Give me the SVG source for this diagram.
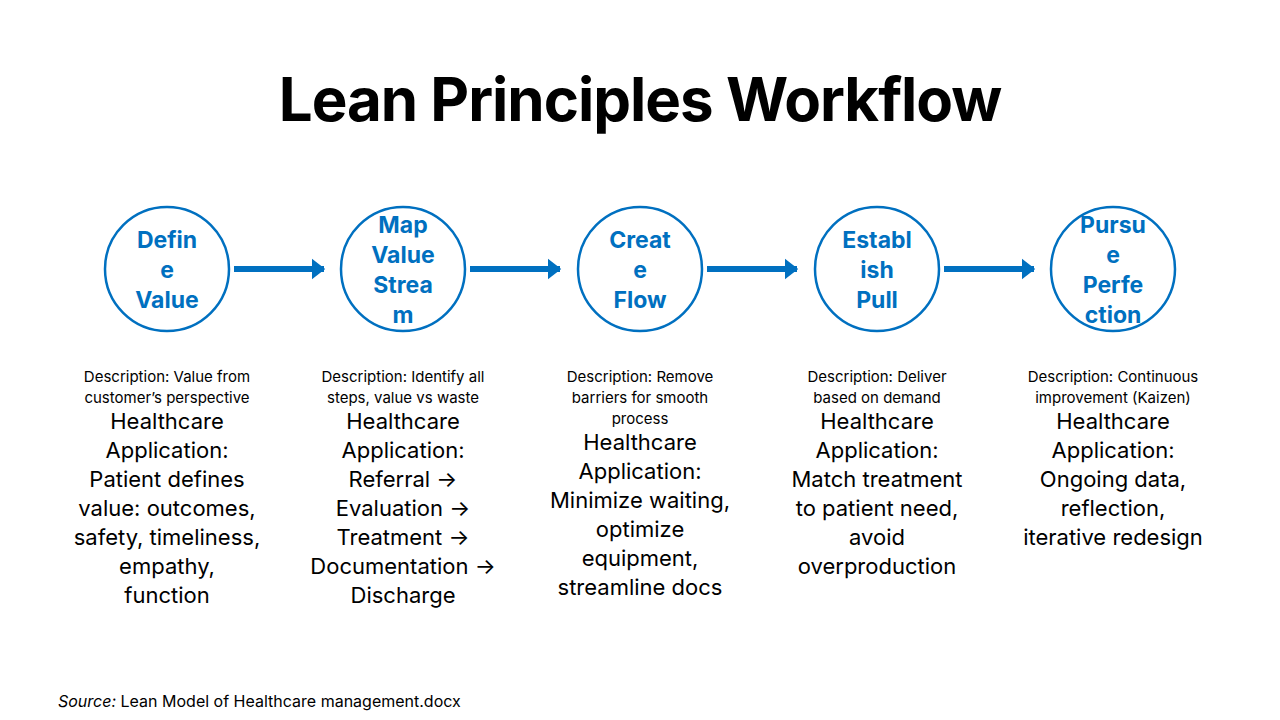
<svg xmlns="http://www.w3.org/2000/svg" width="1280" height="720" viewBox="0 0 1280 720">
<style>
.n{fill:#fff;stroke:#0070C0;stroke-width:2.5}
.nl{font-family:"Inter","Liberation Sans",sans-serif;font-weight:bold;font-size:23px;fill:#0070C0;text-anchor:middle}
.d{font-family:"Inter","Liberation Sans",sans-serif;font-size:15px;fill:#000;text-anchor:middle}
.h{font-family:"Inter","Liberation Sans",sans-serif;font-size:22px;fill:#000;text-anchor:middle}
.c{stroke:#0070C0;stroke-width:6;fill:none;marker-end:url(#a)}
</style>
<defs><marker id="a" markerWidth="4" markerHeight="4" refX="2" refY="2" orient="auto" markerUnits="strokeWidth"><path d="M0,0.3L2.2,2L0,3.7Z" fill="#0070C0"/></marker></defs>
<rect width="1280" height="720" fill="#fff"/>
<text x="640" y="121" font-family="Inter,'Liberation Sans',sans-serif" font-weight="bold" font-size="60" text-anchor="middle" letter-spacing="-1">Lean Principles Workflow</text>
<g id="connectors">
<line class="c" x1="234" y1="269" x2="324" y2="269"/>
<line class="c" x1="470" y1="269" x2="560" y2="269"/>
<line class="c" x1="707" y1="269" x2="797" y2="269"/>
<line class="c" x1="944" y1="269" x2="1034" y2="269"/>
</g>
<g id="n1"><circle class="n" cx="167" cy="269" r="62"/>
<text class="nl" x="167" y="248">Defin</text><text class="nl" x="167" y="278">e</text><text class="nl" x="167" y="308">Value</text>
<text class="d" x="167" y="382">Description: Value from</text><text class="d" x="167" y="403">customer’s perspective</text>
<text class="h"><tspan x="167" y="429">Healthcare</tspan><tspan x="167" y="458">Application:</tspan><tspan x="167" y="487">Patient defines</tspan><tspan x="167" y="516">value: outcomes,</tspan><tspan x="167" y="545">safety, timeliness,</tspan><tspan x="167" y="574">empathy,</tspan><tspan x="167" y="603">function</tspan></text></g>
<g id="n2"><circle class="n" cx="403" cy="269" r="62"/>
<text class="nl" x="403" y="233">Map</text><text class="nl" x="403" y="263">Value</text><text class="nl" x="403" y="293">Strea</text><text class="nl" x="403" y="323">m</text>
<text class="d" x="403" y="382">Description: Identify all</text><text class="d" x="403" y="403">steps, value vs waste</text>
<text class="h"><tspan x="403" y="429">Healthcare</tspan><tspan x="403" y="458">Application:</tspan><tspan x="403" y="487">Referral →</tspan><tspan x="403" y="516">Evaluation →</tspan><tspan x="403" y="545">Treatment →</tspan><tspan x="403" y="574">Documentation →</tspan><tspan x="403" y="603">Discharge</tspan></text></g>
<g id="n3"><circle class="n" cx="640" cy="269" r="62"/>
<text class="nl" x="640" y="248">Creat</text><text class="nl" x="640" y="278">e</text><text class="nl" x="640" y="308">Flow</text>
<text class="d" x="640" y="382">Description: Remove</text><text class="d" x="640" y="403">barriers for smooth</text><text class="d" x="640" y="424">process</text>
<text class="h"><tspan x="640" y="450">Healthcare</tspan><tspan x="640" y="479">Application:</tspan><tspan x="640" y="508">Minimize waiting,</tspan><tspan x="640" y="537">optimize</tspan><tspan x="640" y="566">equipment,</tspan><tspan x="640" y="595">streamline docs</tspan></text></g>
<g id="n4"><circle class="n" cx="877" cy="269" r="62"/>
<text class="nl" x="877" y="248">Establ</text><text class="nl" x="877" y="278">ish</text><text class="nl" x="877" y="308">Pull</text>
<text class="d" x="877" y="382">Description: Deliver</text><text class="d" x="877" y="403">based on demand</text>
<text class="h"><tspan x="877" y="429">Healthcare</tspan><tspan x="877" y="458">Application:</tspan><tspan x="877" y="487">Match treatment</tspan><tspan x="877" y="516">to patient need,</tspan><tspan x="877" y="545">avoid</tspan><tspan x="877" y="574">overproduction</tspan></text></g>
<g id="n5"><circle class="n" cx="1113" cy="269" r="62"/>
<text class="nl" x="1113" y="233">Pursu</text><text class="nl" x="1113" y="263">e</text><text class="nl" x="1113" y="293">Perfe</text><text class="nl" x="1113" y="323">ction</text>
<text class="d" x="1113" y="382">Description: Continuous</text><text class="d" x="1113" y="403">improvement (Kaizen)</text>
<text class="h"><tspan x="1113" y="429">Healthcare</tspan><tspan x="1113" y="458">Application:</tspan><tspan x="1113" y="487">Ongoing data,</tspan><tspan x="1113" y="516">reflection,</tspan><tspan x="1113" y="545">iterative redesign</tspan></text></g>
<text x="58" y="707" font-family="Inter,'Liberation Sans',sans-serif" font-size="16"><tspan font-style="italic">Source:</tspan> Lean Model of Healthcare management.docx</text>
</svg>
